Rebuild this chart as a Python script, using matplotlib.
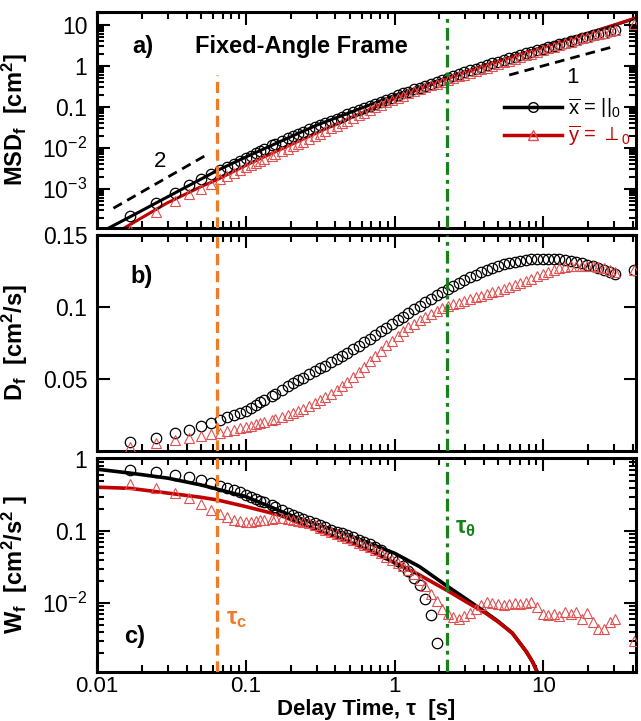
import numpy as np
import matplotlib
matplotlib.use('Agg')
import matplotlib.pyplot as plt
from matplotlib.lines import Line2D
from matplotlib.ticker import FixedLocator, FixedFormatter, LogLocator, NullFormatter, NullLocator

plt.rcParams['font.family'] = ['Liberation Sans', 'DejaVu Sans']
plt.rcParams['mathtext.fontset'] = 'custom'
plt.rcParams['mathtext.rm'] = 'Liberation Sans'
plt.rcParams['mathtext.it'] = 'Liberation Sans:italic'
plt.rcParams['mathtext.bf'] = 'Liberation Sans:bold'

# ---------------- data ----------------
# delay times [s]
tau = [0.0167, 0.025, 0.0333, 0.0417, 0.05, 0.0583, 0.0667, 0.075, 0.0833, 0.0917,
       0.1, 0.108, 0.117, 0.125, 0.133, 0.15, 0.158, 0.175, 0.192, 0.208,
       0.225, 0.242, 0.267, 0.292, 0.317, 0.342, 0.375, 0.408, 0.442, 0.483,
       0.525, 0.575, 0.625, 0.683, 0.742, 0.808, 0.883, 0.958, 1.05, 1.14,
       1.24, 1.36, 1.475, 1.61, 1.76, 1.92, 2.09, 2.275, 2.48, 2.71,
       2.95, 3.22, 3.51, 3.825, 4.17, 4.55, 4.96, 5.41, 5.89, 6.425,
       7.01, 7.64, 8.33, 9.08, 9.91, 10.8, 11.8, 12.8, 14.0, 15.3,
       16.65, 18.15, 19.8, 21.6, 23.5, 25.7, 28.0, 30.5, 41.0]

# panel a) MSD [cm^2]
msd_x = [2.2e-4, 4.6e-4, 8.1e-4, 1.22e-3, 1.72e-3, 2.29e-3, 2.87e-3, 3.50e-3, 4.17e-3, 4.86e-3,
         5.6e-3, 6.5e-3, 7.5e-3, 8.45e-3, 9.4e-3, 0.0116, 0.0126, 0.0148, 0.0172, 0.0196,
         0.0221, 0.0246, 0.0284, 0.0324, 0.0365, 0.0405, 0.0461, 0.0520, 0.0582, 0.0659,
         0.0740, 0.0840, 0.0944, 0.107, 0.120, 0.134, 0.151, 0.169, 0.191, 0.213,
         0.238, 0.268, 0.297, 0.332, 0.372, 0.415, 0.461, 0.512, 0.569, 0.633,
         0.701, 0.777, 0.860, 0.950, 1.05, 1.16, 1.28, 1.40, 1.54, 1.69,
         1.85, 2.03, 2.22, 2.42, 2.65, 2.88, 3.15, 3.41, 3.71, 4.04,
         4.37, 4.73, 5.12, 5.54, 5.97, 6.47, 6.97, 7.52, 10.3]
msd_y = [1.0e-4, 2.75e-4, 5.0e-4, 7.5e-4, 1.02e-3, 1.34e-3, 1.71e-3, 2.09e-3, 2.48e-3, 2.92e-3,
         3.36e-3, 3.80e-3, 4.33e-3, 4.83e-3, 5.35e-3, 6.48e-3, 7.08e-3, 8.33e-3, 9.68e-3, 0.0110,
         0.0126, 0.0141, 0.0167, 0.0194, 0.0223, 0.0254, 0.0299, 0.0346, 0.0398, 0.0466,
         0.0540, 0.0633, 0.0731, 0.0850, 0.0976, 0.112, 0.129, 0.147, 0.168, 0.189,
         0.213, 0.241, 0.268, 0.300, 0.335, 0.373, 0.414, 0.457, 0.505, 0.558,
         0.615, 0.679, 0.748, 0.825, 0.909, 1.00, 1.11, 1.22, 1.34, 1.48,
         1.64, 1.81, 1.99, 2.20, 2.44, 2.69, 2.97, 3.25, 3.58, 3.93,
         4.29, 4.68, 5.10, 5.54, 6.00, 6.52, 7.04, 7.60, 10.3]

# fitted curves in panel a)
fit_tau_x = [0.01, 0.0167, 0.03, 0.045, 0.064, 0.1, 0.18, 0.3, 0.55, 1.0, 2.27, 5.0, 10.0, 20.0, 32.0, 42.0]
fit_msd_x = [7.9e-5, 2.1e-4, 6.5e-4, 1.42e-3, 2.8e-3, 6.0e-3, 0.0157, 0.036, 0.083, 0.19, 0.52, 1.32,
             2.9, 6.2, 10.6, 14.7]
fit_tau_y = [0.01, 0.0154, 0.0294, 0.049, 0.0636, 0.1066, 0.18, 0.313, 0.55, 1.0, 2.27, 5.0, 10.0,
             20.0, 32.0, 42.0]
fit_msd_y = [4.8e-5, 1.14e-4, 4.5e-4, 1.1e-3, 1.66e-3, 4.2e-3, 1.0e-2, 0.025, 0.062, 0.16, 0.49, 1.3,
             2.9, 6.3, 10.8, 15.0]

# slope guides (2 and 1)
guide2_tau = [0.0129, 0.053]
guide2_msd = [3.4e-4, 6.4e-3]
guide1_tau = [5.9, 29.6]
guide1_msd = [0.60, 2.95]

# panel b) D [cm^2/s]
d_x = [0.0065, 0.0092, 0.0122, 0.0146, 0.0172, 0.0196, 0.0215, 0.0233, 0.0250, 0.0265,
       0.0280, 0.0300, 0.0320, 0.0338, 0.0354, 0.0385, 0.0398, 0.0424, 0.0448, 0.0470,
       0.0490, 0.0508, 0.0532, 0.0555, 0.0575, 0.0592, 0.0615, 0.0637, 0.0658, 0.0682,
       0.0705, 0.0730, 0.0755, 0.0781, 0.0806, 0.0831, 0.0857, 0.0882, 0.0908, 0.0933,
       0.0958, 0.0985, 0.1008, 0.1032, 0.1057, 0.1080, 0.1102, 0.1125, 0.1147, 0.1168,
       0.1188, 0.1207, 0.1225, 0.1242, 0.1258, 0.1272, 0.1285, 0.1296, 0.1306, 0.1315,
       0.1322, 0.1327, 0.1331, 0.1334, 0.1335, 0.1335, 0.1333, 0.1330, 0.1326, 0.1320,
       0.1312, 0.1302, 0.1292, 0.1282, 0.1270, 0.1258, 0.1245, 0.1232, 0.1257]
d_y = [0.0030, 0.0055, 0.0075, 0.0090, 0.0102, 0.0115, 0.0128, 0.0139, 0.0149, 0.0159,
       0.0168, 0.0176, 0.0185, 0.0193, 0.0201, 0.0216, 0.0224, 0.0238, 0.0252, 0.0265,
       0.0279, 0.0292, 0.0312, 0.0332, 0.0352, 0.0372, 0.0398, 0.0424, 0.0450, 0.0482,
       0.0514, 0.0550, 0.0585, 0.0622, 0.0658, 0.0695, 0.0733, 0.0767, 0.0800, 0.0830,
       0.0858, 0.0885, 0.0907, 0.0930, 0.0952, 0.0972, 0.0990, 0.1005, 0.1018, 0.1030,
       0.1042, 0.1054, 0.1066, 0.1078, 0.1090, 0.1102, 0.1114, 0.1126, 0.1139, 0.1152,
       0.1166, 0.1181, 0.1197, 0.1213, 0.1230, 0.1245, 0.1258, 0.1268, 0.1277, 0.1283,
       0.1287, 0.1288, 0.1287, 0.1283, 0.1277, 0.1268, 0.1257, 0.1245, 0.1257]

# panel c) W [cm^2/s^2]  (nan = not positive, not shown on log axis)
nan = np.nan
w_x = [0.70, 0.65, 0.60, 0.555, 0.51, 0.465, 0.425, 0.395, 0.37, 0.345,
       0.32, 0.295, 0.278, 0.263, 0.25, 0.226, 0.216, 0.196, 0.180, 0.167,
       0.156, 0.146, 0.136, 0.127, 0.119, 0.112, 0.104, 0.098, 0.093, 0.087,
       0.082, 0.076, 0.071, 0.065, 0.060, 0.054, 0.048, 0.043, 0.038, 0.033,
       0.028, 0.0225, 0.0175, 0.0115, 0.0068, 0.0028, nan, nan, nan, nan,
       nan, nan, nan, nan, nan, nan, nan, nan, nan, nan,
       nan, nan, nan, nan, nan, nan, nan, nan, nan, nan,
       nan, nan, nan, nan, nan, nan, nan, nan, nan]
w_y = [0.445, 0.40, 0.34, 0.285, 0.235, 0.195, 0.172, 0.155, 0.143, 0.137,
       0.134, 0.135, 0.137, 0.140, 0.143, 0.148, 0.150, 0.150, 0.148, 0.144,
       0.139, 0.134, 0.127, 0.119, 0.111, 0.104, 0.097, 0.091, 0.086, 0.080,
       0.075, 0.069, 0.064, 0.059, 0.054, 0.049, 0.044, 0.040, 0.036, 0.033,
       0.029, 0.025, 0.021, 0.017, 0.0135, 0.0105, 0.0082, 0.0070, 0.0063, 0.0060,
       0.0066, 0.0073, 0.0082, 0.0095, 0.0104, 0.0101, 0.0097, 0.0094, 0.0097, 0.0099,
       0.0096, 0.0100, 0.0103, 0.0088, 0.0071, 0.0068, 0.0070, 0.0066, 0.0076, 0.0071,
       0.0075, 0.0059, 0.0072, 0.0055, 0.0044, 0.0043, 0.0055, 0.0059, 0.0030]

# fitted curves in panel c)
wfit_tau_x = [0.01, 0.0167, 0.03, 0.05, 0.1, 0.2, 0.3, 0.5, 1.0, 1.47, 2.27, 3.0, 4.1, 5.0, 6.2, 7.7,
              8.5, 9.1, 9.6]
wfit_x = [0.72, 0.635, 0.54, 0.435, 0.30, 0.165, 0.124, 0.086, 0.049, 0.032, 0.017, 0.0115, 0.0074,
          0.0055, 0.0038, 0.0021, 0.0015, 0.0011, 0.0008]
wfit_tau_y = [0.01, 0.0167, 0.03, 0.05, 0.064, 0.1, 0.17, 0.31, 0.52, 0.79, 1.02, 1.47, 2.27, 3.0,
              4.1, 5.0, 6.2, 7.7, 8.5, 9.1, 9.6]
wfit_y = [0.405, 0.39, 0.335, 0.293, 0.27, 0.218, 0.165, 0.10, 0.068, 0.046, 0.0355, 0.0245, 0.0148,
          0.0105, 0.0072, 0.0054, 0.0038, 0.0021, 0.0015, 0.0011, 0.0008]

# characteristic times [s]
tau_c = 0.064
tau_theta = 2.27

C_RED = '#C10000'
C_TRI = '#E05050'
C_ORANGE = '#F07A25'
C_GREEN = '#17821A'


def style_axis(ax):
    ax.set_xscale('log')
    ax.set_xlim(0.01, 42)
    for s in ax.spines.values():
        s.set_linewidth(2.2)
    ax.tick_params(which='both', direction='in', top=True, right=True, width=1.5,
                   labelsize=16.5, pad=7)
    ax.tick_params(which='major', length=9)
    ax.tick_params(which='minor', length=5)
    ax.xaxis.set_major_locator(FixedLocator([0.01, 0.1, 1, 10]))
    ax.xaxis.set_minor_locator(LogLocator(base=10, subs=np.arange(2, 10)))
    ax.xaxis.set_minor_formatter(NullFormatter())


def markers(ax, x, y1, y2):
    ax.plot(x, y1, 'o', mfc='none', mec='k', ms=7.5, mew=0.9, zorder=3)
    ax.plot(x, y2, '^', mfc='none', mec=C_TRI, ms=7.5, mew=0.8, zorder=3)


def vlines(ax, top_orange=1.0, top_green=1.0):
    ax.axvline(tau_c, ymax=top_orange, color=C_ORANGE, lw=2.3, dashes=(3.5, 1.8), zorder=4)
    ax.axvline(tau_theta, ymax=top_green, color=C_GREEN, lw=2.3, dashes=(4, 1.6, 1.2, 1.6), zorder=4)


fig = plt.figure(figsize=(6.41, 7.21), dpi=100)
left, width = 0.1513, 0.8409
ax_a = fig.add_axes([left, 0.6838, width, 0.2996])
ax_b = fig.add_axes([left, 0.3745, width, 0.2996])
ax_c = fig.add_axes([left, 0.0680, width, 0.2968])

# ---------------- a) MSD ----------------
ax = ax_a
style_axis(ax)
ax.set_yscale('log')
ax.set_ylim(1.12e-4, 20.7)
ax.plot(fit_tau_x, fit_msd_x, color='k', lw=2.2, zorder=2)
ax.plot(fit_tau_y, fit_msd_y, color=C_RED, lw=2.2, zorder=2)
markers(ax, tau, msd_x, msd_y)
ax.plot(guide2_tau, guide2_msd, color='k', lw=2, dashes=(3.5, 2.2))
ax.plot(guide1_tau, guide1_msd, color='k', lw=2, dashes=(3.5, 2.2))
ax.text(0.0265, 4.6e-3, '2', fontsize=16, ha='center', va='center')
ax.text(15.7, 0.51, '1', fontsize=16, ha='center', va='center')
vlines(ax, top_orange=0.708, top_green=0.986)
ax.yaxis.set_major_locator(FixedLocator([1e-3, 1e-2, 0.1, 1, 10]))
ax.yaxis.set_major_formatter(FixedFormatter([r'$10^{-3}$', r'$10^{-2}$', '0.1', '1', '10']))
ax.yaxis.set_minor_locator(LogLocator(base=10, subs=np.arange(2, 10), numticks=20))
ax.yaxis.set_minor_formatter(NullFormatter())
ax.set_xticklabels([])
ax.text(0.085, 0.838, 'a)', transform=ax.transAxes, fontsize=17, fontweight='bold',
        ha='center', va='center')
ax.text(0.182, 0.838, 'Fixed-Angle Frame', transform=ax.transAxes, fontsize=17,
        fontweight='bold', ha='left', va='center')
handles = [Line2D([], [], color='k', lw=2.5, marker='o', mfc='none', mec='k', ms=7, mew=1),
           Line2D([], [], color=C_RED, lw=2.5, marker='^', mfc='none', mec=C_TRI, ms=7, mew=1)]
leg = ax.legend(handles, [r'$\overline{\mathrm{x}}$ = $||_0$', r'$\overline{\mathrm{y}}$ = $\perp_0$'],
                loc='center left', bbox_to_anchor=(0.755, 0.49), frameon=False, fontsize=14.5,
                numpoints=1, handlelength=2.9, handletextpad=0.3, labelspacing=0.2,
                borderpad=0, borderaxespad=0)
leg.get_texts()[1].set_color(C_RED)
ax.set_ylabel(r'MSD$_\mathbf{f}$  [cm$^\mathbf{2}$]', fontsize=17, fontweight='bold')

# ---------------- b) D ----------------
ax = ax_b
style_axis(ax)
ax.set_ylim(0, 0.15)
markers(ax, tau, d_x, d_y)
vlines(ax)
ax.yaxis.set_major_locator(FixedLocator([0.05, 0.1, 0.15]))
ax.yaxis.set_major_formatter(FixedFormatter(['0.05', '0.1', '0.15']))
ax.yaxis.set_minor_locator(NullLocator())
ax.set_xticklabels([])
ax.text(0.083, 0.806, 'b)', transform=ax.transAxes, fontsize=17, fontweight='bold',
        ha='center', va='center')
ax.set_ylabel(r'D$_\mathbf{f}$  [cm$^\mathbf{2}$/s]', fontsize=17, fontweight='bold')

# ---------------- c) W ----------------
ax = ax_c
style_axis(ax)
ax.set_yscale('log')
ax.set_ylim(1.1e-3, 1.03)
ax.plot(wfit_tau_x, wfit_x, color='k', lw=2.6, zorder=2)
ax.plot(wfit_tau_y, wfit_y, color=C_RED, lw=2.6, zorder=2)
markers(ax, tau, w_x, w_y)
vlines(ax)
ax.yaxis.set_major_locator(FixedLocator([1e-2, 0.1, 1]))
ax.yaxis.set_major_formatter(FixedFormatter([r'$10^{-2}$', '0.1', '1']))
ax.yaxis.set_minor_locator(LogLocator(base=10, subs=np.arange(2, 10), numticks=20))
ax.yaxis.set_minor_formatter(NullFormatter())
ax.xaxis.set_major_formatter(FixedFormatter(['0.01', '0.1', '1', '10']))
ax.tick_params(axis='x', pad=3, labelsize=16)
ax.text(0.07, 0.164, 'c)', transform=ax.transAxes, fontsize=17, fontweight='bold',
        ha='center', va='center')
ax.text(0.087, 0.248, r'τ$_\mathbf{c}$', transform=ax.get_xaxis_transform(), fontsize=17,
        fontweight='bold', color=C_ORANGE, ha='center', va='center')
ax.text(3.0, 0.673, r'τ$_\mathbf{\theta}$', transform=ax.get_xaxis_transform(), fontsize=17,
        fontweight='bold', color=C_GREEN, ha='center', va='center')
ax.set_ylabel(r'W$_\mathbf{f}$  [cm$^\mathbf{2}$/s$^\mathbf{2}$ ]', fontsize=17, fontweight='bold')
ax.set_xlabel('Delay Time, τ  [s]', fontsize=16, fontweight='bold')
ax.xaxis.set_label_coords(0.5, -0.124)

for a in (ax_a, ax_b, ax_c):
    a.yaxis.set_label_coords(-0.124, 0.5)

fig.savefig('out.png', dpi=100)
